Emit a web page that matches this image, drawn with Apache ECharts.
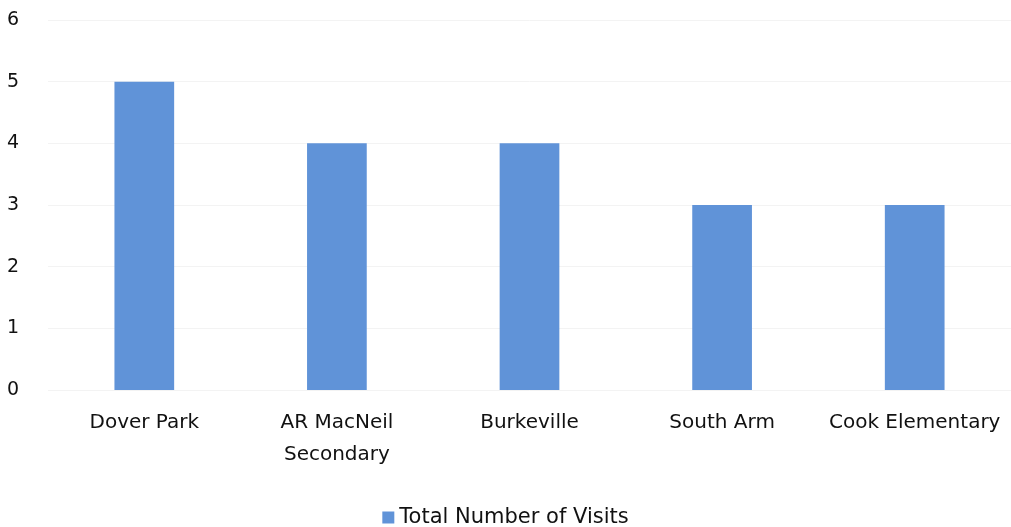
<!DOCTYPE html>
<html>
<head>
<meta charset="utf-8">
<script src="https://cdn.jsdelivr.net/npm/echarts@6/dist/echarts.min.js"></script>
<style>html,body{margin:0;padding:0;background:#fff}#c{width:1011px;height:527px}</style>
</head>
<body>
<div id="c"></div>
<script>
const categories = ['Dover Park', 'AR MacNeil\nSecondary', 'Burkeville', 'South Arm', 'Cook Elementary'];
const visits = [5, 4, 4, 3, 3];
const seriesName = 'Total Number of Visits';

const chart = echarts.init(document.getElementById('c'));
const font = 'DejaVu Sans';
chart.setOption({
  animation: false,
  backgroundColor: '#fff',
  grid: { left: 48, right: 0, top: 20, bottom: 137, containLabel: false },
  legend: {
    top: 502, left: 'center',
    itemWidth: 12, itemHeight: 12, itemGap: 10,
    icon: 'rect',
    textStyle: { fontFamily: font, fontSize: 21, color: '#111' },
    data: [seriesName]
  },
  xAxis: {
    type: 'category', data: categories,
    axisLine: { show: false }, axisTick: { show: false },
    axisLabel: { fontFamily: font, fontSize: 20, color: '#111', margin: 17, lineHeight: 32, interval: 0 }
  },
  yAxis: {
    type: 'value', min: 0, max: 6, interval: 1,
    axisLine: { show: false }, axisTick: { show: false },
    splitLine: { lineStyle: { color: '#f3f3f3', width: 1 } },
    axisLabel: { fontFamily: font, fontSize: 19, color: '#111', margin: 29 }
  },
  series: [{
    name: seriesName, type: 'bar', data: visits,
    barWidth: '31%',
    itemStyle: { color: '#6093d8' }
  }]
});
</script>
</body>
</html>
